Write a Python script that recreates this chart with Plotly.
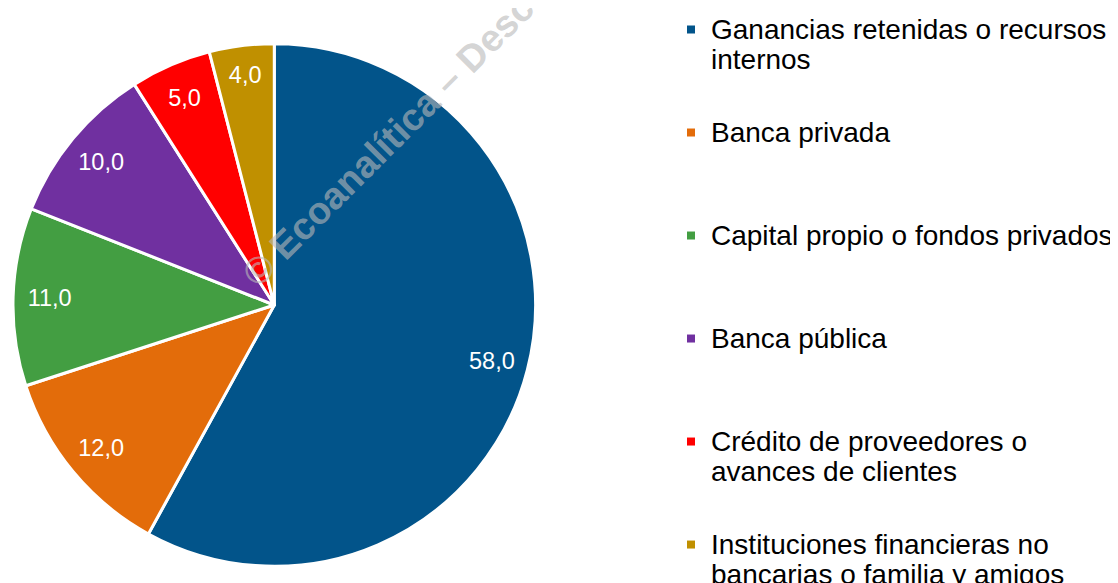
import plotly.graph_objects as go

labels = [
    "Ganancias retenidas o recursos<br>internos",
    "Banca privada",
    "Capital propio o fondos privados",
    "Banca pública",
    "Crédito de proveedores o<br>avances de clientes",
    "Instituciones financieras no<br>bancarias o familia y amigos",
]
values = [58.0, 12.0, 11.0, 10.0, 5.0, 4.0]
colors = ["#02548A", "#E36C0A", "#439E42", "#7030A0", "#FF0000", "#C09000"]
watermark = "© Ecoanalítica – Descargado"

W, H = 1110, 575  # page body has an 8px default margin
cx, cy, R = 267, 297, 262
pie_domain = dict(x=[(cx - R) / W, (cx + R) / W], y=[1 - (cy + R) / H, 1 - (cy - R) / H])

fig = go.Figure()
# filled pie
fig.add_trace(go.Pie(
    labels=labels, values=values, sort=False, direction="clockwise", rotation=0,
    marker=dict(colors=colors, line=dict(color="white", width=3)),
    textposition="none", hoverinfo="label+value", showlegend=False,
    domain=pie_domain,
))
# transparent ring carrying the value labels near the rim
fig.add_trace(go.Pie(
    labels=labels, values=values, sort=False, direction="clockwise", rotation=0,
    hole=0.72,
    marker=dict(colors=["rgba(0,0,0,0)"] * len(values), line=dict(width=0)),
    texttemplate="%{value:.1f}", textposition="inside",
    insidetextorientation="horizontal",
    textfont=dict(family="Arial", size=23.5, color="white"),
    hoverinfo="skip", showlegend=False,
    domain=pie_domain,
))

for i, (lab, col) in enumerate(zip(labels, colors)):
    txt = lab if "<br>" in lab else lab + "<br> "
    fig.add_trace(go.Scatter(
        x=[None], y=[None], mode="markers",
        marker=dict(symbol="square", size=8, color=col),
        name='<span style="font-size:28px">' + txt.replace("<br>", '</span><br><span style="font-size:28px">') + "</span>",
        legendgroup=str(i), showlegend=True,
    ))

fig.add_annotation(
    text=watermark, x=426 / W, y=1 - 88 / H, xref="paper", yref="paper",
    xanchor="center", yanchor="middle", textangle=-45, showarrow=False,
    font=dict(family="Arial", size=38, color="rgba(185,185,185,0.62)", weight="bold"),
)

fig.update_layout(
    width=W, height=H,
    margin=dict(l=0, r=0, t=0, b=0),
    paper_bgcolor="white", plot_bgcolor="white",
    separators=",.",
    xaxis=dict(visible=False), yaxis=dict(visible=False),
    legend=dict(
        x=665 / W, xanchor="left", y=1, yanchor="top",
        font=dict(family="Arial", size=23.08, color="black"),
        tracegroupgap=40, traceorder="grouped", valign="top",
        bgcolor="rgba(0,0,0,0)",
    ),
    font=dict(family="Arial"),
)

fig.write_html("out.html")
